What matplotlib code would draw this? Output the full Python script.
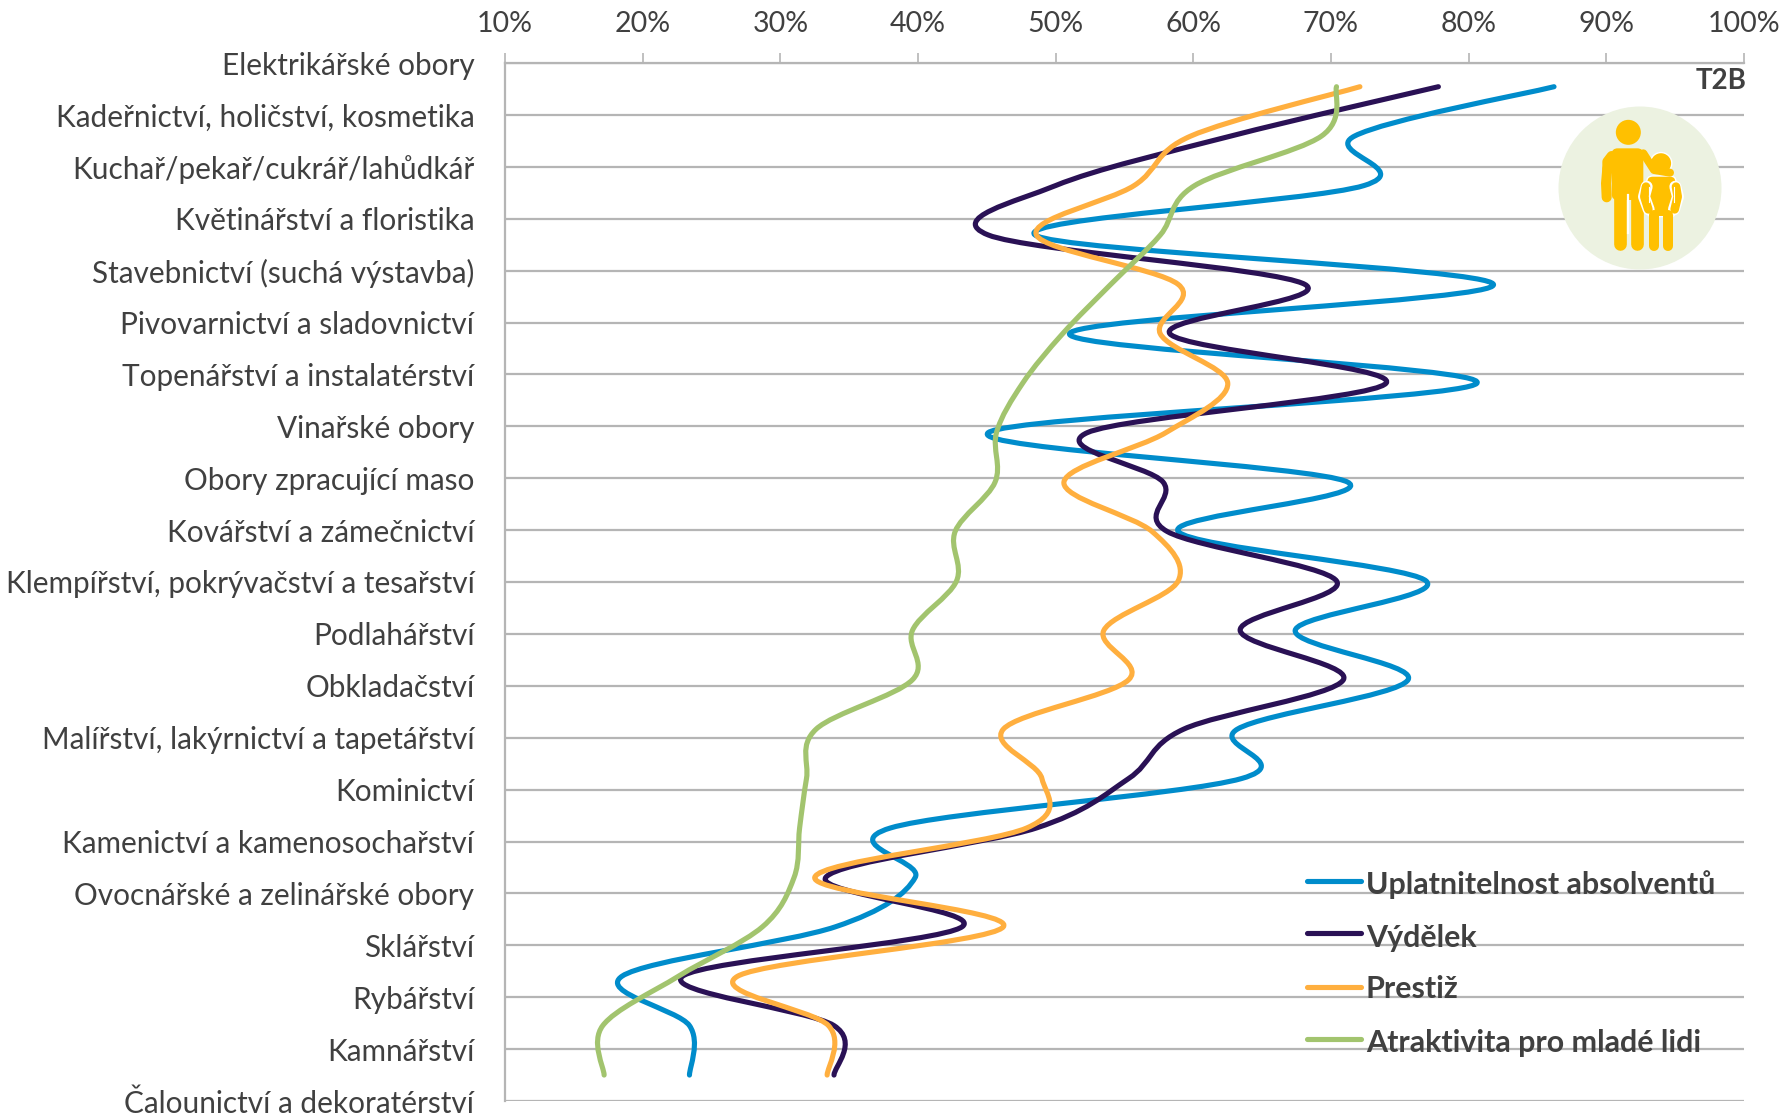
"""Czech trade-school fields: smoothed T2B profiles with legend and icon."""

import numpy as np
import matplotlib
matplotlib.use("Agg")
import matplotlib.pyplot as plt
from matplotlib.path import Path
from matplotlib.patches import PathPatch, Circle, FancyBboxPatch

plt.rcParams["font.family"] = ["Lato", "DejaVu Sans"]

W, H = 1787, 1117
TEXT = "#404040"
GRID = "#b5b5b5"

categories = [
    "Elektrikářské obory", "Kadeřnictví, holičství, kosmetika",
    "Kuchař/pekař/cukrář/lahůdkář", "Květinářství a floristika",
    "Stavebnictví (suchá výstavba)", "Pivovarnictví a sladovnictví",
    "Topenářství a instalatérství", "Vinařské obory",
    "Obory zpracující maso", "Kovářství a zámečnictví",
    "Klempířství, pokrývačství a tesařství", "Podlahářství", "Obkladačství",
    "Malířství, lakýrnictví a tapetářství", "Kominictví",
    "Kamenictví a kamenosochařství", "Ovocnářské a zelinářské obory",
    "Sklářství", "Rybářství", "Kamnářství", "Čalounictví a dekoratérství",
]

uplatnitelnost = [86.2, 71.7, 72.4, 48.5, 81.8, 51.0, 80.6, 45.1, 71.2, 58.9, 76.9,
                  67.4, 75.6, 63.2, 63.5, 38.0, 39.8, 34.0, 18.5, 23.4, 23.4]
vydelek = [77.8, 62.7, 50.0, 45.1, 68.1, 58.3, 74.0, 52.3, 57.8, 58.1, 70.4,
           63.4, 70.9, 59.3, 55.3, 48.6, 33.3, 43.2, 22.9, 33.9, 33.9]
prestiz = [72.1, 59.8, 55.7, 48.6, 58.9, 57.6, 62.5, 58.0, 50.6, 57.0, 58.9,
           53.5, 55.3, 46.2, 49.0, 47.9, 32.5, 46.2, 26.9, 33.5, 33.4]
atraktivita = [70.4, 69.3, 60.1, 57.6, 54.0, 50.5, 47.6, 45.7, 45.6, 42.7, 42.8,
               39.6, 39.6, 32.6, 31.9, 31.4, 31.0, 28.7, 22.6, 17.1, 17.2]

series = [
    ("Uplatnitelnost absolventů", uplatnitelnost, "#008ccb"),
    ("Výdělek", vydelek, "#2a1155"),
    ("Prestiž", prestiz, "#ffaf3f"),
    ("Atraktivita pro mladé lidi", atraktivita, "#a2c46e"),
]

x_ticks = list(range(10, 101, 10))


def smooth_path(xs, ys):
    # same idea as Excel's "smoothed line": Catmull-Rom written as beziers
    pts = np.column_stack([xs, ys])
    verts, codes = [pts[0]], [Path.MOVETO]
    for i in range(len(pts) - 1):
        before = pts[max(i - 1, 0)]
        after = pts[min(i + 2, len(pts) - 1)]
        verts += [pts[i] + (pts[i + 1] - before) / 6,
                  pts[i + 1] - (after - pts[i]) / 6,
                  pts[i + 1]]
        codes += [Path.CURVE4] * 3
    return Path(verts, codes)


fig = plt.figure(figsize=(W / 100, H / 100), dpi=100, facecolor="white")
ax = fig.add_axes([505 / W, 1 - 1101 / H, (1744 - 505) / W, (1101 - 63) / H])
ax.set_xlim(10, 100)
ax.set_ylim(len(categories) - 1, 0)

for s in ("right", "bottom"):
    ax.spines[s].set_visible(False)
for s in ("left", "top"):
    ax.spines[s].set_color(GRID)
    ax.spines[s].set_linewidth(1.6)
ax.grid(axis="y", color=GRID, lw=1.6)
ax.set_axisbelow(True)

ax.xaxis.tick_top()
ax.set_xticks(x_ticks)
ax.set_xticklabels([f"{t}%" for t in x_ticks], fontsize=20.5, color=TEXT)
ax.tick_params(axis="x", length=7, width=1.2, color=GRID, pad=11.5)
ax.set_yticks(range(len(categories)))
ax.set_yticklabels(categories, fontsize=21.4, color=TEXT)
ax.tick_params(axis="y", length=0, pad=22)

# the line layer sits on its own slightly tighter category scale in the original
rows = np.linspace(0.457, 19.5, len(categories))
for name, values, color in series:
    ax.add_patch(PathPatch(smooth_path(values, rows), fill=False, edgecolor=color,
                           lw=3.7, capstyle="round", joinstyle="round", clip_on=False))

# overlay in pixel coordinates for the legend and the pictogram
over = fig.add_axes([0, 0, 1, 1], facecolor="none")
over.set_xlim(0, W)
over.set_ylim(H, 0)
over.axis("off")

over.text(1746, 81, "T2B", ha="right", va="center", fontsize=20, fontweight="bold", color=TEXT)

legend_y = [881, 933, 987, 1039]
legend_text_y = [885, 938, 989, 1043]
for (name, values, color), y, ty in zip(series, legend_y, legend_text_y):
    over.plot([1307, 1361], [y, y], color=color, lw=3.7, solid_capstyle="round")
    over.text(1366, ty, name, va="center", fontsize=21.9, fontweight="bold", color=TEXT)

ICON = "#ffc000"


def zx(v):
    return 1500 + v / 3


def zy(v):
    return v / 3


def limb(xs, ys, width, color=ICON):
    over.plot([zx(v) for v in xs], [zy(v) for v in ys], color=color,
              lw=width / 3 * 0.72, solid_capstyle="round", solid_joinstyle="round")


def block(x0, y0, x1, y1, rad, **kw):
    over.add_patch(FancyBboxPatch((zx(x0) + rad, zy(y0) + rad),
                                  (x1 - x0) / 3 - 2 * rad, (y1 - y0) / 3 - 2 * rad,
                                  boxstyle=f"round,pad={rad}", **kw))


over.add_patch(Circle((1640, 188), 81.5, color="#ecf2e1", lw=0))
# adult
over.add_patch(Circle((zx(385), zy(397)), 12.5, color=ICON, lw=0))
block(335, 445, 430, 600, 6, color=ICON, lw=0)
limb([322, 318, 320], [505, 550, 592], 30)
limb([335, 322, 322], [468, 485, 510], 30)
limb([360, 360], [590, 733], 38)
limb([411, 411], [590, 733], 38)
over.plot([zx(385), zx(385)], [zy(585), zy(700)], color="white", lw=1.6)
limb([430, 462, 510], [460, 510, 518], 24)
# child
limb([440, 432, 446], [560, 590, 628], 36, color="white")
limb([526, 534, 522], [560, 590, 628], 36, color="white")
block(440, 528, 528, 650, 6, facecolor=ICON, edgecolor="white", lw=1)
limb([438, 433, 445], [560, 590, 628], 26)
limb([528, 533, 524], [560, 590, 628], 26)
over.plot([zx(446), zx(446)], [zy(560), zy(605)], color="white", lw=0.8)
over.plot([zx(521), zx(521)], [zy(560), zy(605)], color="white", lw=0.8)
over.add_patch(Circle((zx(483), zy(490)), 10.8, facecolor=ICON, edgecolor="white", lw=1))
limb([463, 463], [645, 738], 30)
limb([505, 505], [645, 738], 30)

fig.savefig("out.png", dpi=100)
